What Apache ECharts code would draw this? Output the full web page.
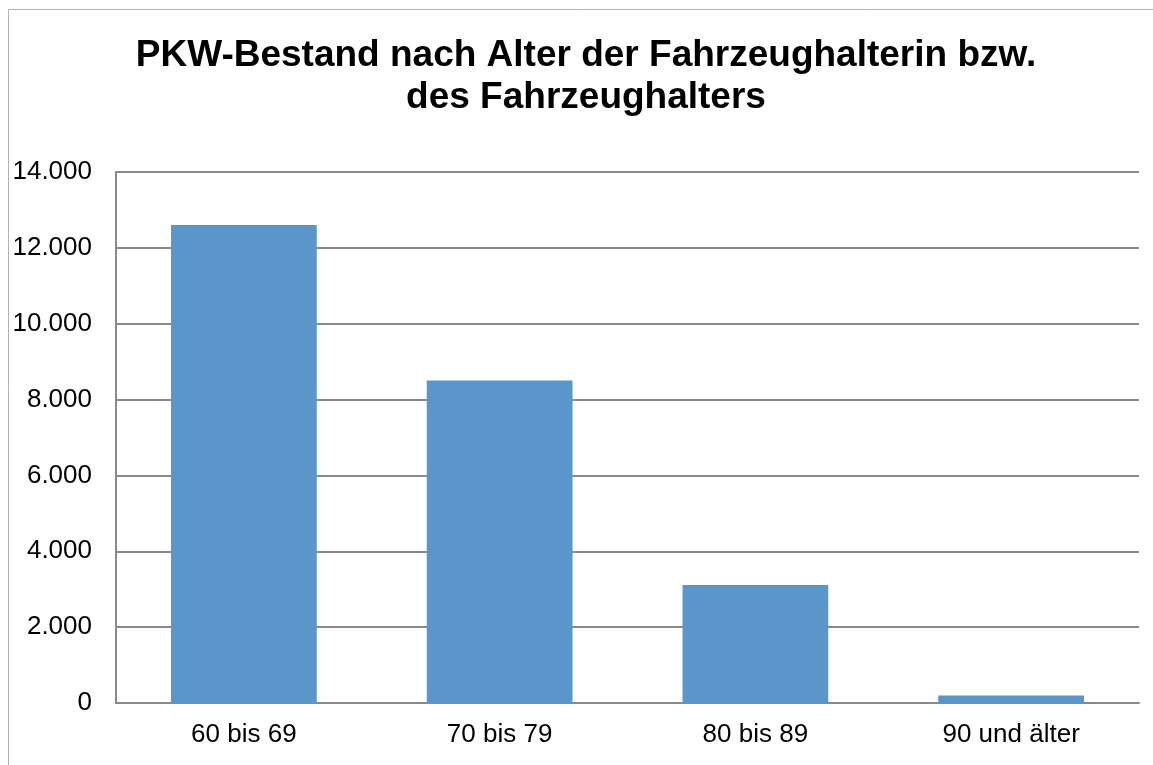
<!DOCTYPE html>
<html>
<head>
<meta charset="utf-8">
<script src="https://cdn.jsdelivr.net/npm/echarts@6/dist/echarts.min.js"></script>
<style>
  html, body { margin: 0; padding: 0; background: #fff; }
  #chart { width: 1153px; height: 765px; }
</style>
</head>
<body>
<div id="chart"></div>
<script>
// Daten
const categories = ["60 bis 69", "70 bis 79", "80 bis 89", "90 und älter"];
const bestand = [12600, 8500, 3110, 200];
const titleLines = ["PKW-Bestand nach Alter der Fahrzeughalterin bzw.", "des Fahrzeughalters"];

const myChart = echarts.init(document.getElementById("chart"));

const fmt = (v) => String(v).replace(/\B(?=(\d{3})+(?!\d))/g, ".");

const option = {
  animation: false,
  textStyle: { fontFamily: "Liberation Sans, Arial, sans-serif" },
  graphic: [
    {
      type: "rect",
      shape: { x: 8.5, y: 9.5, width: 1300, height: 900 },
      style: { fill: "none", stroke: "#b4b4b4", lineWidth: 1 },
      silent: true
    },
    {
      type: "text",
      x: 586,
      y: 35,
      style: {
        text: titleLines.join("\n"),
        align: "center",
        font: "bold 37px 'Liberation Sans', Arial, sans-serif",
        lineHeight: 42,
        fill: "#000"
      }
    }
  ],
  grid: {
    left: 116,
    right: 14,
    top: 172,
    bottom: 62
  },
  xAxis: {
    type: "category",
    data: categories,
    axisLine: { lineStyle: { color: "#8a8a8a", width: 2 } },
    axisTick: { show: false },
    axisLabel: { color: "#000", fontSize: 26, margin: 19 }
  },
  yAxis: {
    type: "value",
    min: 0,
    max: 14000,
    interval: 2000,
    axisLine: { show: true, lineStyle: { color: "#8a8a8a", width: 2 } },
    axisTick: { show: false },
    splitLine: { lineStyle: { color: "#8a8a8a", width: 2 } },
    axisLabel: { color: "#000", fontSize: 26, margin: 24, formatter: fmt }
  },
  series: [
    {
      name: "PKW-Bestand",
      type: "bar",
      data: bestand,
      barWidth: "57%",
      itemStyle: { color: "#5b96ca" }
    }
  ]
};

myChart.setOption(option);
</script>
</body>
</html>
